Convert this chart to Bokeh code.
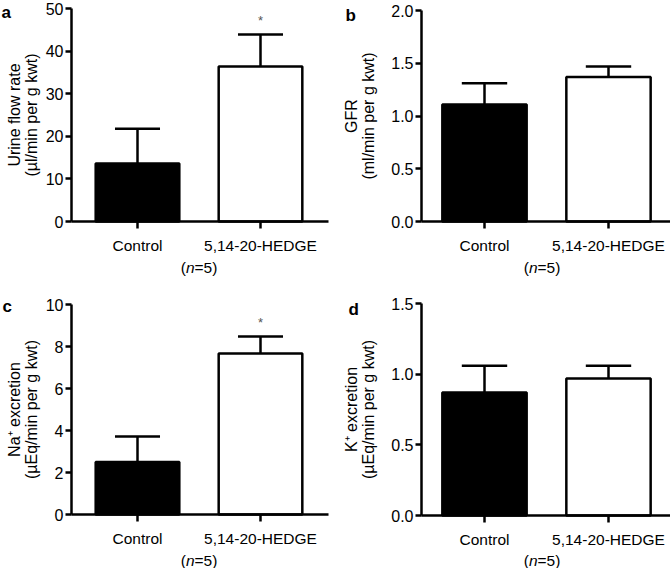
from bokeh.plotting import figure
from bokeh.models import FixedTicker, Label, NumeralTickFormatter
from bokeh.layouts import gridplot
from bokeh.embed import file_html
from bokeh.resources import INLINE
from bokeh.core.properties import value

# ---- data ----
groups = ["Control", "5,14-20-HEDGE"]
xs = [0, 1]
urine_mean = [13.6, 36.4]
urine_sem = [8.2, 7.5]
gfr_mean = [1.11, 1.37]
gfr_sem = [0.20, 0.10]
na_mean = [2.5, 7.67]
na_sem = [1.22, 0.81]
k_mean = [0.87, 0.97]
k_sem = [0.19, 0.09]
n_text = "5"

FONT = "Liberation Sans"
W, H = 335, 284


def panel(mean, sem, ymax, yticks, fmt, ylabel, letter, star, lay):
    # lay: pixel anchors inside the canvas (layout only)
    X0, X1 = lay["x0"], lay["x1"]          # pixel x of the two category ticks
    YAX, XEND = lay["yax"], lay["xend"]    # pixel x of y axis, end of x axis
    Y0, YTOP = lay["y0"], lay["ytop"]      # pixel y of 0 and of ymax
    ppx = X1 - X0
    ppy = (Y0 - YTOP) / ymax

    def dx(px):
        return (px - X0) / ppx

    def dy(py):
        return (Y0 - py) / ppy

    p = figure(width=W, height=H, x_range=(dx(0), dx(W)), y_range=(dy(H), dy(0)),
               output_backend="svg", toolbar_location=None,
               min_border_left=0, min_border_right=0,
               min_border_top=0, min_border_bottom=0)
    p.outline_line_color = None
    p.xgrid.visible = False
    p.ygrid.visible = False
    p.background_fill_color = "white"
    p.border_fill_color = "white"

    tops = [m + s for m, s in zip(mean, sem)]
    cap = 0.183
    p.segment(x0=xs, y0=mean, x1=xs, y1=tops, line_color="black", line_width=2.5)
    p.segment(x0=[x - cap for x in xs], y0=tops, x1=[x + cap for x in xs], y1=tops,
              line_color="black", line_width=2.5)
    p.vbar(x=xs, top=mean, width=0.68, bottom=0,
           fill_color=["black", "white"], line_color="black", line_width=2.5)

    if star:
        p.text(x=[xs[1]], y=[tops[1] + 0.064 * ymax], text=["*"],
               text_font=value(FONT), text_font_size="13px", text_color="#555555",
               text_align="center", text_baseline="middle")

    for ax in (p.xaxis[0], p.yaxis[0]):
        ax.axis_line_width = 2.5
        ax.major_tick_line_width = 2.5
        ax.major_tick_in = 0
        ax.minor_tick_line_color = None
        ax.major_label_text_font = FONT
        ax.major_label_text_color = "black"
        ax.axis_label_text_font = FONT
        ax.axis_label_text_font_size = "16px"
        ax.axis_label_text_font_style = "normal"
        ax.axis_label_text_color = "black"
        ax.axis_label_text_line_height = 1.0
    p.xaxis.major_label_text_font_size = "15.5px"
    p.yaxis.major_label_text_font_size = "16px"
    p.xaxis.ticker = FixedTicker(ticks=xs)
    p.xaxis.major_label_overrides = {x: g for x, g in zip(xs, groups)}
    p.xaxis.major_tick_out = 7
    p.xaxis.major_label_standoff = 8
    p.xaxis.fixed_location = 0
    p.xaxis.bounds = (dx(YAX), dx(XEND))
    p.yaxis.ticker = FixedTicker(ticks=yticks)
    p.yaxis.formatter = NumeralTickFormatter(format=fmt)
    p.yaxis.major_tick_out = 6
    p.yaxis.major_label_standoff = 2
    p.yaxis.axis_label = ylabel
    p.yaxis.axis_label_standoff = lay["lstand"]
    p.yaxis.fixed_location = dx(YAX)
    p.yaxis.bounds = (0, ymax)

    # (n=5) with italic n
    nx, ny = dx(lay["nx"]), dy(lay["ny"])
    for txt, off, style in (("(", -18.3, "normal"), ("n", -13.1, "italic"),
                            ("=" + n_text + ")", -4.5, "normal")):
        p.add_layout(Label(x=nx, y=ny, x_offset=off, text=txt,
                           text_font=FONT, text_font_size="15.5px",
                           text_font_style=style, text_align="left",
                           text_baseline="middle", text_color="black"))

    # panel letter
    p.add_layout(Label(x=dx(lay["lx"]), y=dy(lay["ly"]), text=letter,
                       text_font=FONT, text_font_size="17px", text_font_style="bold",
                       text_align="left", text_baseline="alphabetic", text_color="black"))
    return p


lay_a = dict(x0=137, x1=260, yax=71, xend=328, y0=221, ytop=8, nx=198.5, ny=267,
             lx=1, ly=12, lstand=3)
lay_b = dict(x0=149, x1=273, yax=86, xend=335, y0=221, ytop=10, nx=206.5, ny=267,
             lx=10, ly=15, lstand=11)
lay_c = dict(x0=137, x1=260, yax=71, xend=328, y0=230, ytop=20, nx=198.5, ny=276,
             lx=2, ly=22, lstand=3)
lay_d = dict(x0=149, x1=273, yax=86, xend=335, y0=231, ytop=19, nx=206.5, ny=276,
             lx=13, ly=25, lstand=11)

pa = panel(urine_mean, urine_sem, 50, [0, 10, 20, 30, 40, 50], "0",
           "Urine flow rate\n(µl/min per g kwt)", "a", True, lay_a)
pb = panel(gfr_mean, gfr_sem, 2.0, [0, 0.5, 1.0, 1.5, 2.0], "0.0",
           "GFR\n(ml/min per g kwt)", "b", False, lay_b)
pc = panel(na_mean, na_sem, 10, [0, 2, 4, 6, 8, 10], "0",
           "Na⁺ excretion\n(µEq/min per g kwt)", "c", True, lay_c)
pd_ = panel(k_mean, k_sem, 1.5, [0, 0.5, 1.0, 1.5], "0.0",
            "K⁺ excretion\n(µEq/min per g kwt)", "d", False, lay_d)

grid = gridplot([[pa, pb], [pc, pd_]], toolbar_location=None)
open("out.html", "w").write(file_html(grid, INLINE))
